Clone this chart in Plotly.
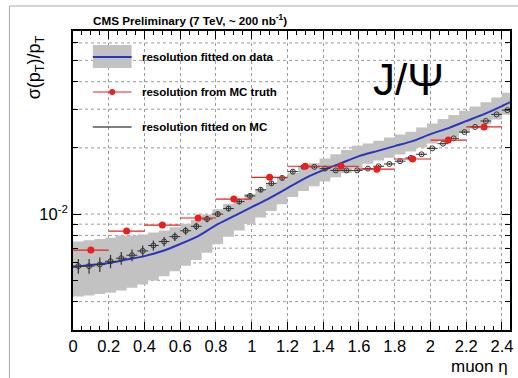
import plotly.graph_objects as go

# ---- data ----
# MC fit points (bin centres, 0.06 wide bins)
eta_mc = [0.03, 0.09, 0.15, 0.21, 0.27, 0.33, 0.39, 0.45, 0.51, 0.57,
          0.63, 0.69, 0.75, 0.81, 0.87, 0.93, 0.99, 1.05, 1.11, 1.17,
          1.23, 1.29, 1.35, 1.41, 1.47, 1.53, 1.59, 1.65, 1.71, 1.77,
          1.83, 1.89, 1.95, 2.01, 2.07, 2.13, 2.19, 2.25, 2.31, 2.37, 2.43]
mc_fit = [0.0058, 0.0058, 0.0059, 0.0061, 0.0063, 0.0065, 0.0068, 0.0072, 0.0075, 0.0079,
          0.0084, 0.0088, 0.0095, 0.0100, 0.0106, 0.0114, 0.0121, 0.0129, 0.0138, 0.0146,
          0.0156, 0.0164, 0.0164, 0.0161, 0.0158, 0.0158, 0.0158, 0.0161, 0.0165, 0.0169,
          0.0174, 0.0180, 0.0187, 0.0199, 0.0209, 0.0221, 0.0236, 0.0249, 0.0265, 0.0284, 0.0297]
mc_fit_err = [0.00045, 0.00045, 0.00045, 0.00043, 0.00042, 0.00040, 0.00040, 0.00038, 0.00036, 0.00035,
              0.00034, 0.00033, 0.00032, 0.00031, 0.00030, 0.00030, 0.00030, 0.00030, 0.00030, 0.00030,
              0.00030, 0.00020, 0.00020, 0.00020, 0.00020, 0.00020, 0.00020, 0.00020, 0.00020, 0.00020,
              0.00020, 0.00020, 0.00020, 0.00020, 0.00020, 0.00020, 0.00020, 0.00020, 0.00020, 0.00020, 0.00020]

# data fit uncertainty band (per bin)
band_high = [0.00751, 0.00760, 0.00770, 0.00781, 0.00799, 0.00799, 0.00808, 0.00824, 0.00843, 0.00872,
             0.00905, 0.00941, 0.00995, 0.01053, 0.01114, 0.01166, 0.01234, 0.01292, 0.01369, 0.01442,
             0.01536, 0.01619, 0.01705, 0.01791, 0.01872, 0.01956, 0.02044, 0.02092, 0.02158, 0.02227,
             0.02298, 0.02371, 0.02473, 0.02581, 0.02709, 0.02822, 0.02948, 0.03081, 0.03223, 0.03388, 0.03563]
band_low = [0.00422, 0.00427, 0.00433, 0.00439, 0.00449, 0.00463, 0.00479, 0.00499, 0.00521, 0.00550,
            0.00583, 0.00619, 0.00668, 0.00730, 0.00788, 0.00843, 0.00902, 0.00964, 0.01032, 0.01110,
            0.01195, 0.01272, 0.01340, 0.01408, 0.01472, 0.01538, 0.01607, 0.01696, 0.01751, 0.01806,
            0.01864, 0.01924, 0.02006, 0.02094, 0.02151, 0.02242, 0.02342, 0.02447, 0.02560, 0.02692, 0.02830]

# data fit (blue curve)
eta_data = [0.0, 0.1, 0.2, 0.3, 0.4, 0.5, 0.6, 0.7, 0.8, 0.9, 1.0, 1.1, 1.2,
            1.3, 1.4, 1.5, 1.6, 1.7, 1.8, 1.9, 2.0, 2.1, 2.2, 2.3, 2.4, 2.445]
data_fit = [0.00574, 0.00587, 0.00599, 0.00621, 0.00644, 0.00679, 0.00731, 0.00794, 0.00891,
            0.00979, 0.01076, 0.01182, 0.01313, 0.01458, 0.01585, 0.01705, 0.01835, 0.01934,
            0.02038, 0.02147, 0.0231, 0.0246, 0.02647, 0.02848, 0.03097, 0.03228]

# MC truth (red), 0.2 wide bins
eta_truth = [0.1, 0.3, 0.5, 0.7, 0.9, 1.1, 1.3, 1.5, 1.7, 1.9, 2.1, 2.3]
mc_truth = [0.00686, 0.00837, 0.00891, 0.0096, 0.0117, 0.0147, 0.0165, 0.0165,
            0.0160, 0.0178, 0.0217, 0.0249]

x_tickvals = [0, 0.2, 0.4, 0.6, 0.8, 1.0, 1.2, 1.4, 1.6, 1.8, 2.0, 2.2, 2.4]
x_ticktext = ["0", "0.2", "0.4", "0.6", "0.8", "1", "1.2", "1.4", "1.6", "1.8", "2", "2.2", "2.4"]
y_gridvals = [0.004, 0.005, 0.006, 0.007, 0.008, 0.009, 0.01, 0.02, 0.03, 0.04, 0.05, 0.06]
y_tickvals = [0.01]
y_ticktext = ["10<sup>-2</sup>"]

# ---- figure ----
half_bin = (eta_mc[1] - eta_mc[0]) / 2
edges = [c - half_bin for c in eta_mc] + [eta_mc[-1] + half_bin]
low_steps = band_low + [band_low[-1]]
high_steps = band_high + [band_high[-1]]

fig = go.Figure()
fig.add_trace(go.Scatter(x=edges, y=low_steps, mode="lines", line=dict(width=0, shape="hv"),
                         showlegend=False, hoverinfo="skip"))
fig.add_trace(go.Scatter(x=edges, y=high_steps, mode="lines", line=dict(width=0, shape="hv"),
                         fill="tonexty", fillcolor="#c2c2c2", showlegend=False, hoverinfo="skip"))
fig.add_trace(go.Scatter(x=eta_data, y=data_fit, mode="lines",
                         line=dict(color="#2a35c0", width=2, shape="spline", smoothing=0.6),
                         showlegend=False))
fig.add_trace(go.Scatter(x=eta_mc, y=mc_fit, mode="markers",
                         marker=dict(symbol="circle-open", size=5, color="#333333", line=dict(width=1)),
                         error_x=dict(type="constant", value=half_bin, color="#333333", thickness=1, width=0),
                         error_y=dict(type="data", array=mc_fit_err, color="#333333", thickness=1.2, width=0),
                         showlegend=False))
fig.add_trace(go.Scatter(x=eta_truth, y=mc_truth, mode="markers",
                         marker=dict(symbol="circle", size=7, color="#e8201e"),
                         error_x=dict(type="constant", value=0.1, color="#e8201e", thickness=1.2, width=0),
                         showlegend=False))

L, R, T, B = 73, 5, 31, 48
W, H = 518, 378
pw, ph = W - L - R, H - T - B


def px(x):
    return (x - L) / pw


def py(y):
    return (H - B - y) / ph


shapes = [
    dict(type="rect", xref="paper", yref="paper", x0=px(9), x1=px(525), y0=py(385), y1=py(6),
         line=dict(color="#aaaaaa", width=1), layer="below"),
    dict(type="rect", xref="paper", yref="paper", x0=px(93), x1=px(132), y0=py(68), y1=py(45),
         fillcolor="#c2c2c2", line=dict(width=0)),
    dict(type="line", xref="paper", yref="paper", x0=px(93), x1=px(132), y0=py(57), y1=py(57),
         line=dict(color="#2a35c0", width=2)),
    dict(type="line", xref="paper", yref="paper", x0=px(93), x1=px(132), y0=py(92), y1=py(92),
         line=dict(color="#e8201e", width=1.2)),
    dict(type="circle", xref="paper", yref="paper", x0=px(109.5), x1=px(115.5), y0=py(95), y1=py(89),
         fillcolor="#e8201e", line=dict(width=0)),
    dict(type="line", xref="paper", yref="paper", x0=px(93), x1=px(132), y0=py(127), y1=py(127),
         line=dict(color="#555555", width=1.5)),
]
# dotted grid lines at every log tick
for v in y_gridvals:
    shapes.append(dict(type="line", xref="paper", yref="y", x0=0, x1=1, y0=v, y1=v,
                       line=dict(color="#9a9a9a", width=1, dash="dot"), layer="below"))

ff = "Liberation Sans, Arial, sans-serif"
legend_font = dict(family=ff, size=11.5, color="black")
annotations = [
    dict(text="<b>CMS Preliminary (7 TeV, ~ 200 nb<sup>-1</sup>)</b>", xref="paper", yref="paper",
         x=px(91), y=py(20), xanchor="left", yanchor="middle", showarrow=False,
         font=dict(family=ff, size=11.7, color="black")),
    dict(text="<b>resolution fitted on data</b>", xref="paper", yref="paper",
         x=px(140), y=py(57), xanchor="left", yanchor="middle", showarrow=False, font=legend_font),
    dict(text="<b>resolution from MC truth</b>", xref="paper", yref="paper",
         x=px(140), y=py(92), xanchor="left", yanchor="middle", showarrow=False, font=legend_font),
    dict(text="<b>resolution fitted on MC</b>", xref="paper", yref="paper",
         x=px(140), y=py(127), xanchor="left", yanchor="middle", showarrow=False, font=legend_font),
    dict(text="J/Ψ", xref="paper", yref="paper", x=px(411), y=py(79), xanchor="center",
         yanchor="middle", showarrow=False, font=dict(family=ff, size=44, color="black")),
    dict(text="σ(p<sub>T</sub>)/p<sub>T</sub>", xref="paper", yref="paper", x=px(35), y=py(67),
         xanchor="center", yanchor="middle", textangle=-90, showarrow=False,
         font=dict(family=ff, size=18, color="black")),
    dict(text="muon η", xref="paper", yref="paper", x=1.0, y=py(366), xanchor="right",
         yanchor="middle", showarrow=False, font=dict(family=ff, size=17, color="black")),
]

axis_font = dict(family=ff, size=16.5, color="black")
fig.update_layout(
    width=W, height=H,
    margin=dict(l=L, r=R, t=T, b=B, pad=0),
    paper_bgcolor="white", plot_bgcolor="white",
    shapes=shapes, annotations=annotations,
    showlegend=False,
    xaxis=dict(range=[0, 2.445], tickvals=x_tickvals, ticktext=x_ticktext, tickfont=axis_font,
               showline=True, linecolor="black", linewidth=1.5, mirror="allticks",
               ticks="inside", ticklen=8, tickcolor="black",
               showgrid=True, gridcolor="#9a9a9a", griddash="dot", gridwidth=1,
               minor=dict(dtick=0.05, tick0=0, ticks="inside", ticklen=4, tickcolor="black", showgrid=False),
               zeroline=False),
    yaxis=dict(type="log", range=[-2.527, -1.1675], tickvals=y_tickvals, ticktext=y_ticktext,
               tickfont=axis_font, showline=True, linecolor="black", linewidth=1.5, mirror="allticks",
               ticks="inside", ticklen=8, tickcolor="black", showgrid=False, zeroline=False,
               minor=dict(tickvals=y_gridvals, ticks="inside", ticklen=5, tickcolor="black",
                          showgrid=False)),
)

fig.write_html("out.html", config={"displayModeBar": False},
               post_script="document.body.style.margin='0';document.body.style.overflow='hidden';")
